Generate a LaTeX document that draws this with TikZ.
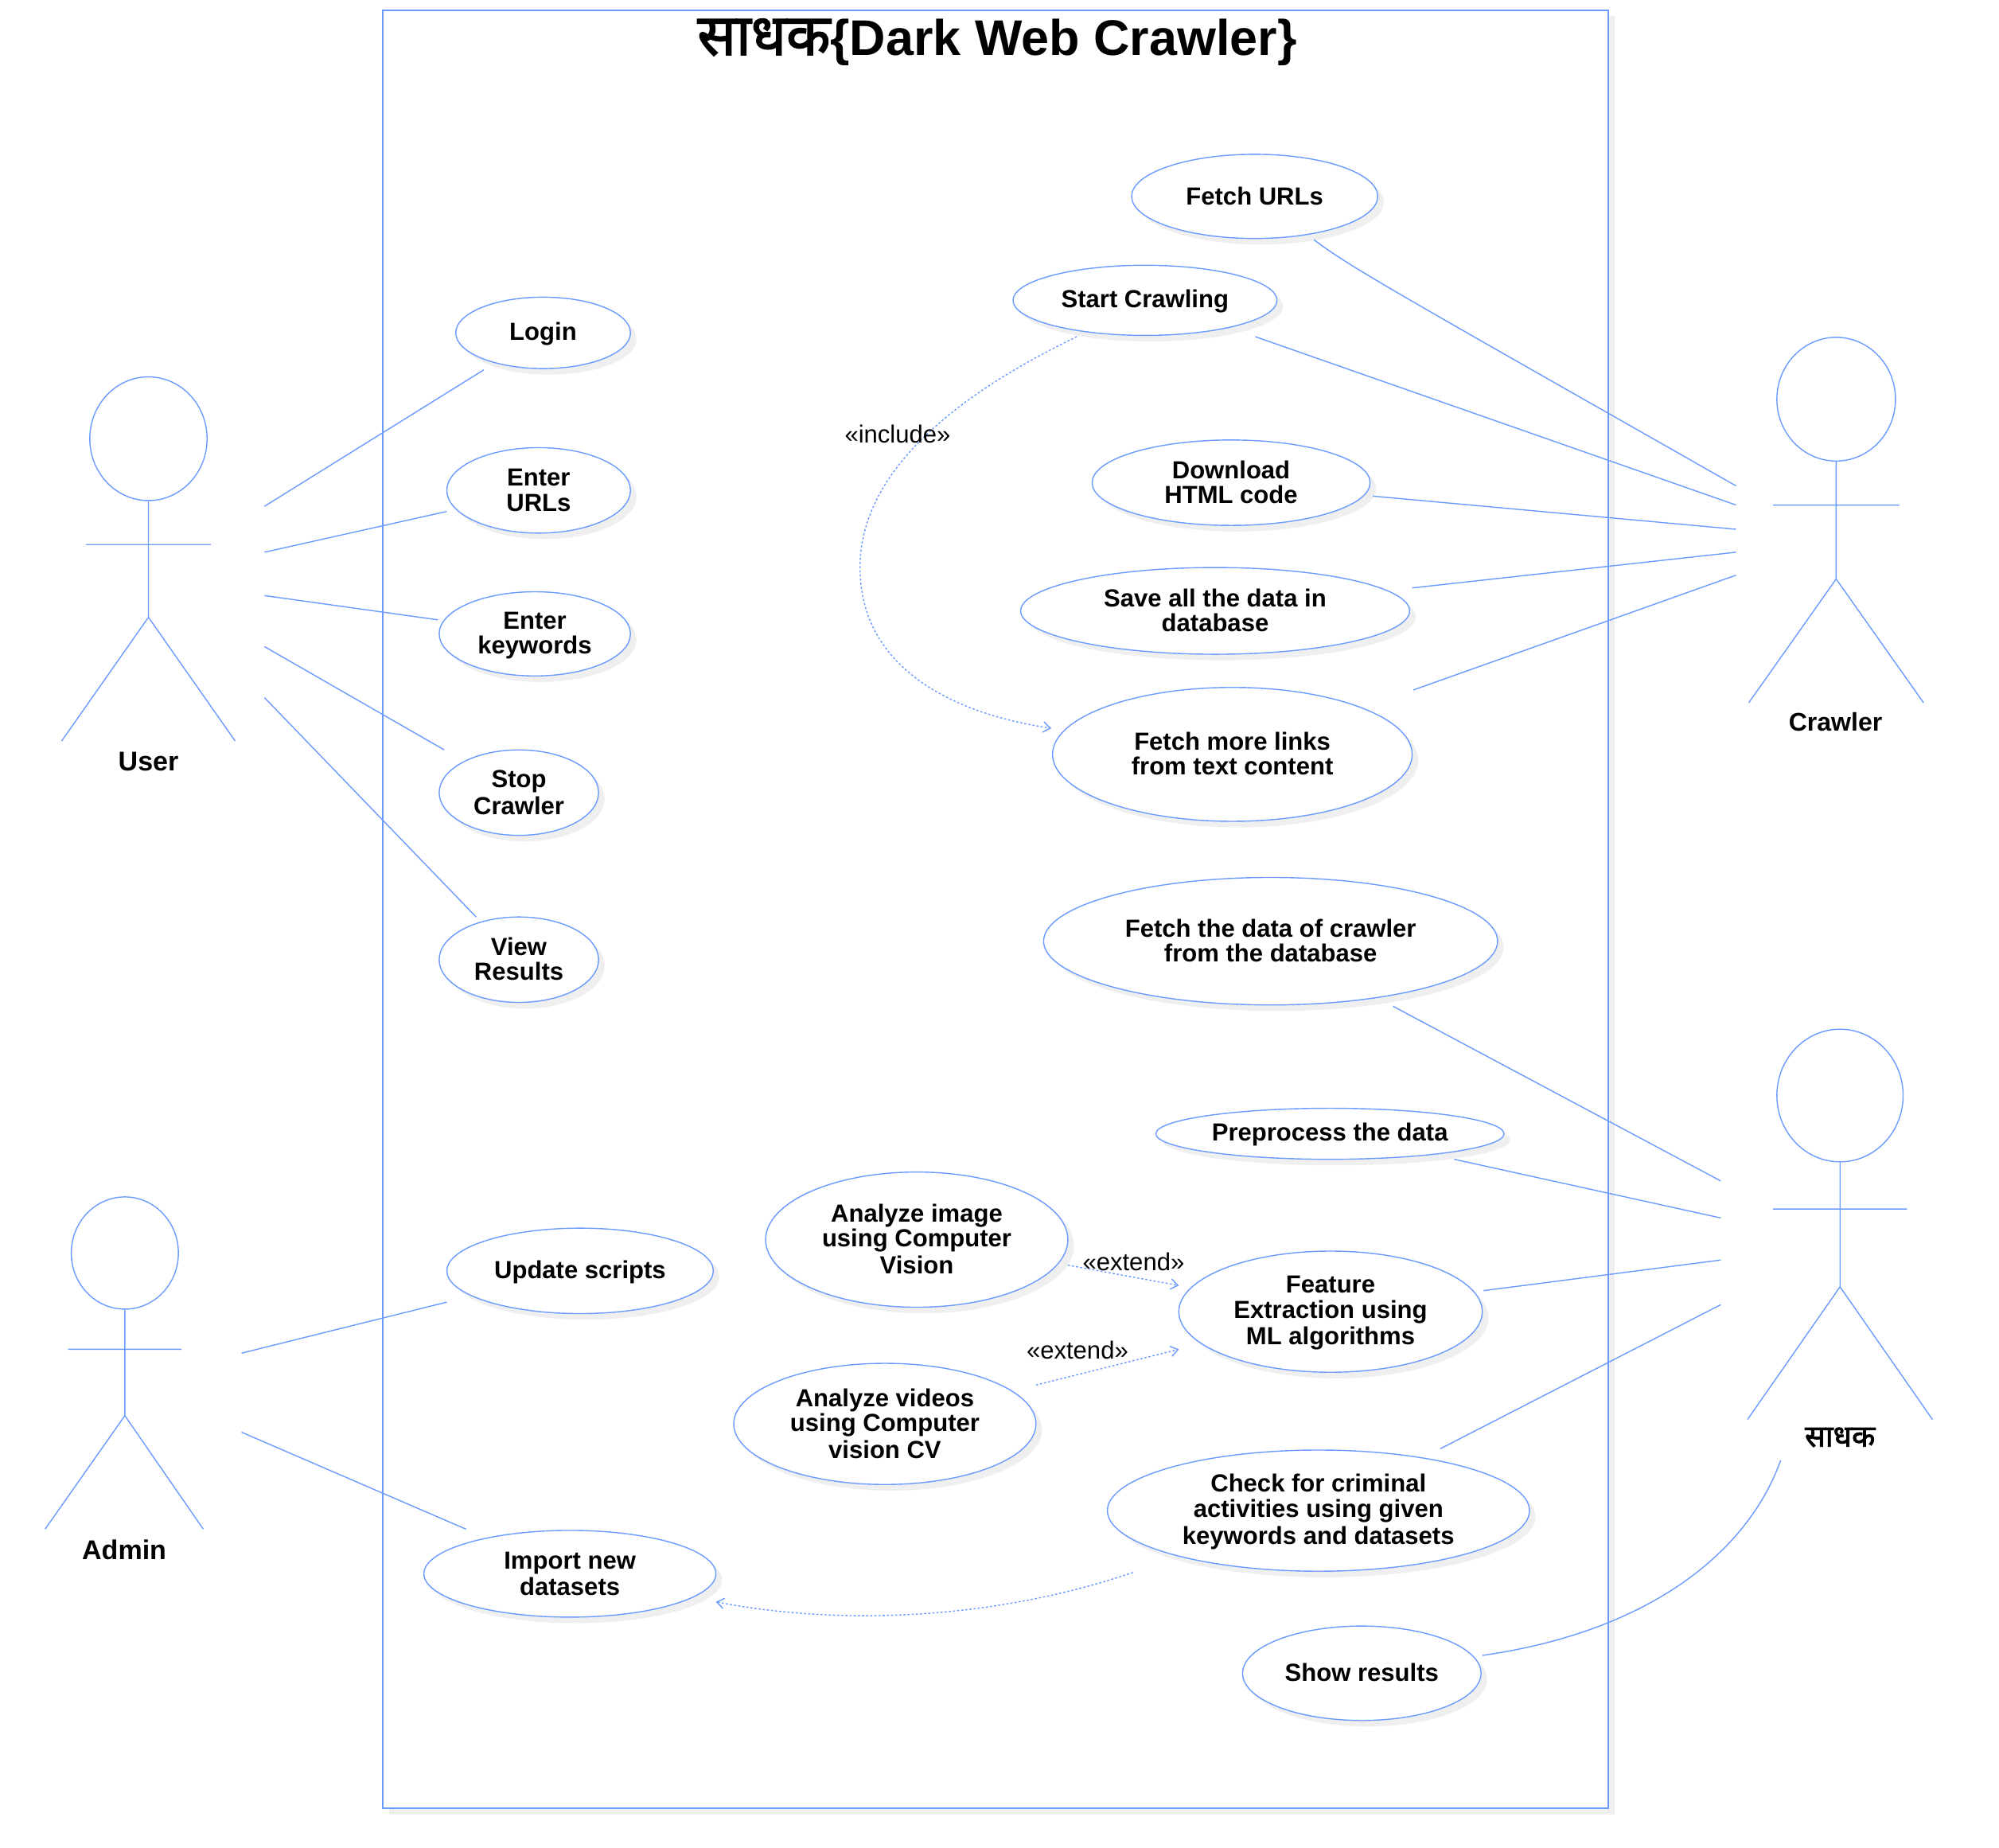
\documentclass[tikz,border=0pt]{standalone}
\usepackage{fontspec}
\setmainfont{Liberation Sans}
\newfontfamily\deva[Script=Devanagari,FakeBold=2.2]{Noto Sans}
\usetikzlibrary{calc,shapes.geometric,shadows,arrows.meta}
\definecolor{ucblue}{HTML}{6B9BFF}
\definecolor{shc}{HTML}{EFEFEF}
\tikzset{
  x=0.8pt,y=-0.8pt,
  ucshadow/.style={general shadow={shadow xshift=3.8pt,shadow yshift=-3.8pt,fill=shc}},
  usecase/.style={ellipse,draw=ucblue,line width=0.7pt,fill=white,inner sep=0pt,align=center,ucshadow,
    font=\fontsize{15.5}{15.6}\selectfont\bfseries},
  sysbox/.style={rectangle,draw=ucblue,line width=0.9pt,fill=white,inner sep=0pt,ucshadow,
    minimum width=768.8pt,minimum height=1128pt},
  head/.style={ellipse,draw=ucblue,line width=0.7pt,inner sep=0pt},
  limb/.style={draw=ucblue,line width=0.7pt},
  conn/.style={draw=ucblue,line width=0.7pt},
  dep/.style={draw=ucblue,line width=0.7pt,dash pattern=on 1.3pt off 1.3pt,
    -{Straight Barb[length=4.5pt,width=6.5pt]}},
  actorlabel/.style={font=\fontsize{17}{19}\selectfont\bfseries,inner sep=0pt},
  deplabel/.style={font=\fontsize{15.5}{17}\selectfont,inner sep=0pt},
}
\newcommand{\tstrut}{\rule[-2.2pt]{0pt}{14.8pt}}
\newcommand{\uc}[6]{\node[usecase,minimum width=1.6*#4 pt,minimum height=1.6*#5 pt] (#1) at (#2,#3) {\tstrut#6\tstrut};}
\newcommand{\hd}[5]{\node[head,minimum width=1.6*#4 pt,minimum height=1.6*#5 pt] (#1) at (#2,#3) {};}
\begin{document}
\begin{tikzpicture}
\useasboundingbox (0.6,0) rectangle (1568.2,1449);
\node[sysbox] (system) at (781.5,713) {};
\node[inner sep=0pt,font=\fontsize{31.4}{34}\selectfont\bfseries] (title) at (782.5,33) {{\deva\fontsize{36}{36}\selectfont साधक}\{Dark Web Crawler\}};
% use cases
\uc{fetchurls}{984.5}{154}{96.5}{33}{Fetch URLs}
\uc{start}{898.5}{235.5}{103.5}{27.5}{Start Crawling}
\uc{login}{426.5}{261}{68.5}{28}{Login}
\uc{enterurls}{423}{384.5}{72}{33.5}{Enter\\URLs}
\uc{keywords}{420}{497}{75}{33}{Enter\\keywords}
\uc{stop}{407.5}{621.5}{62.5}{33.5}{Stop\\Crawler}
\uc{view}{407.5}{752.5}{62.5}{33.5}{View\\Results}
\uc{download}{966}{378.5}{109}{33.5}{Download\\HTML code}
\uc{save}{953.5}{479}{152.5}{34}{Save all the data in\\database}
\uc{more}{967}{591.5}{141}{52.5}{Fetch more links\\from text content}
\uc{fetchdata}{997}{738}{178}{50}{Fetch the data of crawler\\from the database}
\uc{prep}{1043.5}{889}{136.5}{20}{Preprocess the data}
\uc{image}{719.5}{972}{118.5}{53}{Analyze image\\using Computer\\Vision}
\uc{update}{455.5}{996.5}{104.5}{33.5}{Update scripts}
\uc{feature}{1044}{1028.5}{119}{47.5}{Feature\\Extraction using\\ML algorithms}
\uc{videos}{694.5}{1116.5}{118.5}{47.5}{Analyze videos\\using Computer\\vision CV}
\uc{check}{1034.5}{1184.5}{165.5}{47.5}{Check for criminal\\activities using given\\keywords and datasets}
\uc{import}{447.5}{1234}{114.5}{34}{Import new\\datasets}
\uc{show}{1068.5}{1312}{93.5}{37}{Show results}
% actors
\hd{user}{117}{344}{46}{48.5}
\coordinate (userhip) at (117,484);
\draw[limb] (user.south) -- (userhip) (68,427) -- (166,427) (49,581) -- (userhip) -- (185,581);
\node[actorlabel] (userlabel) at (117,597) {User};
\hd{crawler}{1440.5}{313}{46.5}{48.5}
\coordinate (crawlerhip) at (1440.5,454);
\draw[limb] (crawler.south) -- (crawlerhip) (1391,396) -- (1490,396) (1372,551) -- (crawlerhip) -- (1509,551);
\node[actorlabel,font=\fontsize{16}{19}\selectfont\bfseries] (crawlerlabel) at (1440,566) {Crawler};
\hd{admin}{98.5}{982.5}{42}{44}
\coordinate (adminhip) at (98.5,1110);
\draw[limb] (admin.south) -- (adminhip) (54,1058) -- (143,1058) (36,1199) -- (adminhip) -- (160,1199);
\node[actorlabel] (adminlabel) at (98,1215) {Admin};
\hd{sadhak}{1443.5}{859}{49.5}{52}
\coordinate (sadhakhip) at (1443.5,1009);
\draw[limb] (sadhak.south) -- (sadhakhip) (1391,948) -- (1496,948) (1371,1113) -- (sadhakhip) -- (1516,1113);
\node[actorlabel,font=\fontsize{19}{21}\selectfont\deva] (sadhaklabel) at (1443.5,1127) {साधक};
% connectors
\draw[conn] ($(user)+(91,53)$) -- ($(login)+(-46.5,29)$);
\draw[conn] ($(user)+(91,89)$) -- ($(enterurls)+(-72,16.5)$);
\draw[conn] ($(user)+(91,123)$) -- ($(keywords)+(-76,-11)$);
\draw[conn] ($(user)+(91,163)$) -- ($(stop)+(-58.5,-33.5)$);
\draw[conn] ($(user)+(91,203)$) -- ($(view)+(-33.5,-33.5)$);
\draw[conn] ($(fetchurls)+(46.5,34)$) .. controls (1060,210) and (1100,232) .. ($(crawler)+(-78.5,68)$);
\draw[conn] ($(start)+(86.5,28.5)$) -- ($(crawler)+(-78.5,83)$);
\draw[conn] ($(download)+(111,10.5)$) -- ($(crawler)+(-78.5,102)$);
\draw[conn] ($(save)+(154.5,-18)$) -- ($(crawler)+(-78.5,120)$);
\draw[conn] ($(more)+(142,-50.5)$) -- ($(crawler)+(-78.5,138)$);
\draw[conn] ($(fetchdata)+(96,51)$) -- ($(sadhak)+(-93.5,67)$);
\draw[conn] ($(prep)+(97.5,20)$) -- ($(sadhak)+(-93.5,96)$);
\draw[conn] ($(feature)+(120,-16.5)$) -- ($(sadhak)+(-93.5,129)$);
\draw[conn] ($(check)+(95.5,-48.5)$) -- ($(sadhak)+(-93.5,164)$);
\draw[conn] ($(show)+(94.5,-14)$) .. controls (1290,1280) and (1370,1220) .. ($(sadhak)+(-46.5,286)$);
\draw[conn] ($(admin)+(91.5,78.5)$) -- ($(update)+(-104.5,24.5)$);
\draw[conn] ($(admin)+(91.5,140.5)$) -- ($(import)+(-81.5,-35)$);
% dependencies
\draw[dep] ($(start)+(-53.5,28.5)$) .. controls (760,305) and (675,365) .. (675,445) .. controls (675,525) and (750,560) .. ($(more)+(-142,-20.5)$);
\draw[dep] ($(image)+(118.5,20)$) -- ($(feature)+(-119,-20.5)$);
\draw[dep] ($(videos)+(118.5,-30.5)$) -- ($(feature)+(-119,29.5)$);
\draw[dep] ($(check)+(-145.5,48.5)$) .. controls (780,1270) and (660,1275) .. ($(import)+(114.5,22)$);
\node[deplabel] (includelabel) at (704.5,340.5) {«include»};
\node[deplabel] (extendlabela) at (889.5,989.5) {«extend»};
\node[deplabel] (extendlabelb) at (845.5,1058.5) {«extend»};
\end{tikzpicture}
\end{document}
